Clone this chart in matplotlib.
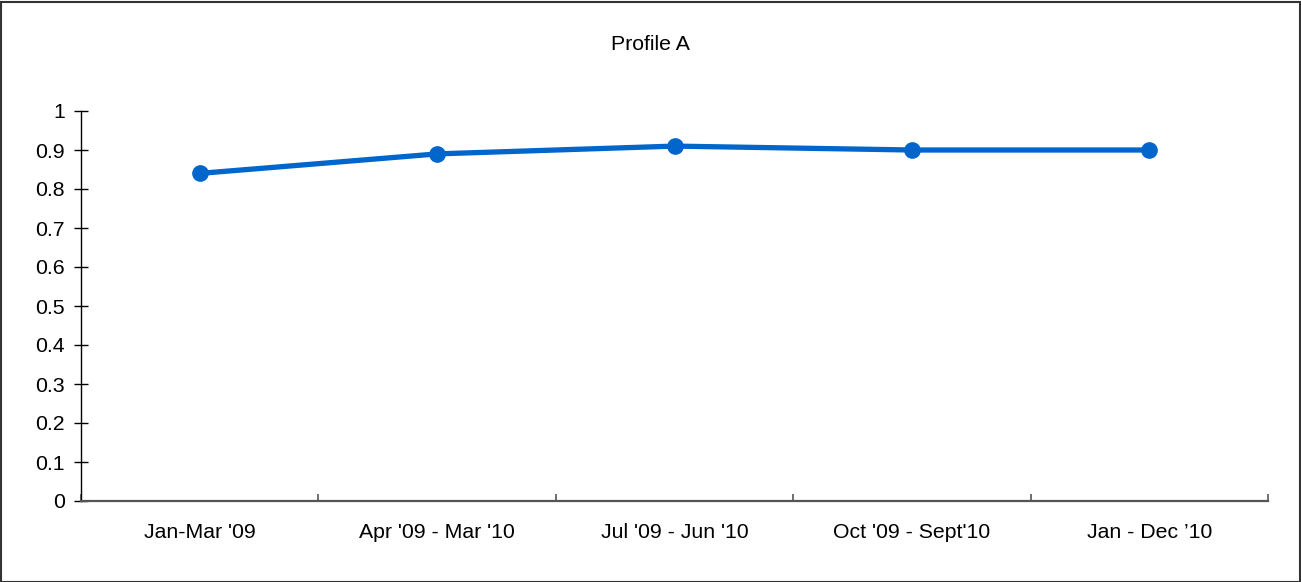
import matplotlib
matplotlib.use("Agg")
import matplotlib.pyplot as plt
from matplotlib.patches import Rectangle
import numpy as np

categories = ["Jan-Mar '09", "Apr '09 - Mar '10", "Jul '09 - Jun '10", "Oct '09 - Sept'10", "Jan - Dec \u201910"]
values = [0.84, 0.89, 0.91, 0.90, 0.90]
yticks = [0, 0.1, 0.2, 0.3, 0.4, 0.5, 0.6, 0.7, 0.8, 0.9, 1]
ytick_labels = ["0", "0.1", "0.2", "0.3", "0.4", "0.5", "0.6", "0.7", "0.8", "0.9", "1"]
title = "Profile A"

plt.rcParams['font.family'] = ['Liberation Sans', 'DejaVu Sans']

W, H = 1301, 582
fig = plt.figure(figsize=(W / 100, H / 100), dpi=100)
ax = fig.add_axes([81 / W, 81 / H, (1268 - 81) / W, (501 - 111) / H])

x = np.arange(len(categories))
ax.plot(x, values, color='#0066CC', linewidth=3.8, marker='o', markersize=11,
        markerfacecolor='#0066CC', markeredgecolor='#0066CC', solid_capstyle='round')

ax.set_xlim(-0.5, len(categories) - 0.5)
ax.set_ylim(0, 1)

ax.set_yticks(yticks)
ax.set_yticklabels(ytick_labels)
ax.set_xticks(x)
ax.set_xticklabels(categories)
ax.set_xticks(np.arange(len(categories) + 1) - 0.5, minor=True)

ax.tick_params(axis='y', direction='inout', length=10, width=1, color='black',
               labelsize=15.3, pad=6.5, labelcolor='black')
ax.tick_params(axis='x', which='major', length=0, labelsize=15.3, pad=15.8, labelcolor='black')
ax.tick_params(axis='x', which='minor', direction='in', length=5, width=1.2, color='#555555')

for s in ['top', 'right']:
    ax.spines[s].set_visible(False)
ax.spines['left'].set_color('black')
ax.spines['left'].set_linewidth(1)
ax.spines['bottom'].set_color('#555555')
ax.spines['bottom'].set_linewidth(1.6)

fig.text(650 / W, 1 - 44.5 / H, title, ha='center', va='center', fontsize=15.3)

fig.patches.append(Rectangle((0.5 / W, 0.5 / H), 1 - 2 / W, 1 - 2 / H, transform=fig.transFigure,
                             fill=False, edgecolor='#333333', linewidth=1.5))

fig.savefig('out.png', dpi=100)
